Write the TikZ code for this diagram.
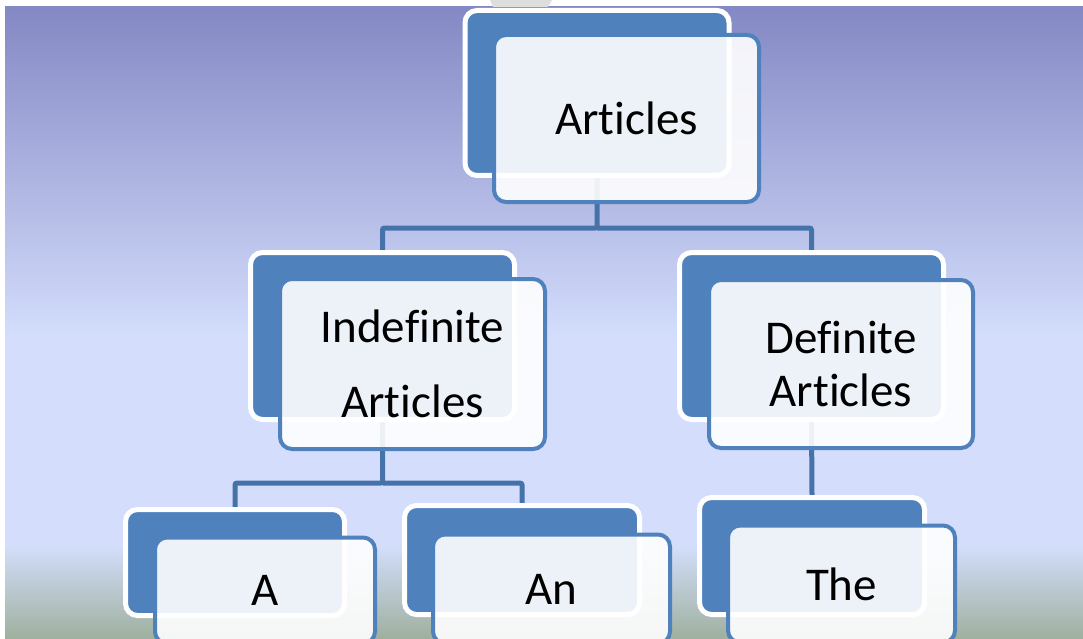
\documentclass[tikz,border=0pt]{standalone}
\usepackage{fontspec}
\setmainfont{Carlito}[Ligatures=NoCommon]
\usepackage{xcolor}
\usetikzlibrary{calc,backgrounds}

\definecolor{boxblue}{HTML}{4F81BD}
\definecolor{linkblue}{HTML}{4672AA}
\definecolor{skytop}{HTML}{8488C4}
\definecolor{skymid}{HTML}{D4DEFC}
\definecolor{skylow}{HTML}{9EB09E}
\definecolor{tabgrey}{HTML}{DEDEDE}

\tikzset{
    backbox/.style={rectangle, inner sep=0pt, rounded corners=12pt, fill=boxblue, draw=white, line width=5pt},
    frontbox/.style={rectangle, inner sep=0pt, rounded corners=12pt, fill=white, fill opacity=0.9, text opacity=1,
        draw=boxblue, line width=4pt, align=center, font=\fontsize{47}{57}\selectfont},
    link/.style={draw=linkblue, line width=5pt, rounded corners=2pt}
}

\begin{document}
\begin{tikzpicture}[x=1pt,y=-1pt]
    \useasboundingbox (0,0) rectangle (1083,639);
    \clip (0,0) rectangle (1083,639);

    % Backdrop
    \begin{scope}[on background layer]
        \fill[white] (0,0) rectangle (1083,639);
        \fill[top color=skytop, bottom color=skymid] (5,7) rectangle (1083,340);
        \fill[skymid] (5,339) rectangle (1083,546);
        \fill[top color=skymid, bottom color=skylow] (5,545) rectangle (1083,639);
        \fill[tabgrey] (490,0) -- (552,0) -- (548,7) -- (493,7) -- cycle;
    \end{scope}

    % Top level
    \node[backbox, minimum width=264pt, minimum height=165pt] (artback) at (597,93) {};
    \node[frontbox, minimum width=265pt, minimum height=167pt] (artfront) at ($(artback)+(29.5,25.5)$) {Articles};

    % Second level
    \node[backbox, minimum width=264pt, minimum height=167pt] (indefback) at (382.5,336) {};
    \node[frontbox, minimum width=265pt, minimum height=170pt, font=\fontsize{47}{75}\selectfont]
        (indeffront) at ($(indefback)+(30,28)$) {Indefinite\\Articles};
    \node[backbox, minimum width=264pt, minimum height=167pt] (defback) at (811.5,336) {};
    \node[frontbox, minimum width=264pt, minimum height=168pt, font=\fontsize{47}{53}\selectfont]
        (deffront) at ($(defback)+(29.5,28)$) {Definite\\Articles};

    % Third level
    \node[backbox, minimum width=219pt, minimum height=106pt] (aback) at (235,562.5) {};
    \node[frontbox, minimum width=220pt, minimum height=106pt] (afront) at ($(aback)+(30,28)$) {A};
    \node[backbox, minimum width=235pt, minimum height=109pt] (anback) at (522,560) {};
    \node[frontbox, minimum width=237pt, minimum height=109pt] (anfront) at ($(anback)+(29.5,29)$) {An};
    \node[backbox, minimum width=225pt, minimum height=117pt] (theback) at (812,556) {};
    \node[frontbox, minimum width=227pt, minimum height=117pt] (thefront) at ($(theback)+(29.5,28)$) {The};

    % Links
    \begin{scope}[on background layer]
        \coordinate (topjoin) at (597,228);
        \draw[link] (artback.south) -- (topjoin) -| (indefback.north);
        \draw[link] (topjoin) -| (defback.north);
        \coordinate (indefjoin) at (382.5,483);
        \draw[link] (indefback.south) -- (indefjoin) -| (aback.north);
        \draw[link] (indefjoin) -| (anback.north);
        \draw[link] (defback.south) -- (theback.north);
    \end{scope}
\end{tikzpicture}
\end{document}
